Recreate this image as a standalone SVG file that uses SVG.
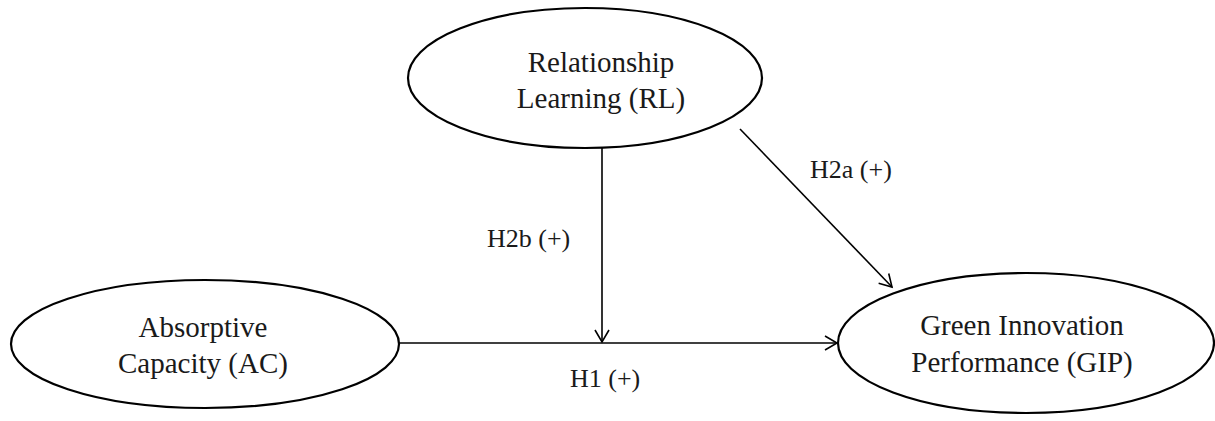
<svg xmlns="http://www.w3.org/2000/svg" width="1215" height="421" viewBox="0 0 1215 421">
<style>
.node{fill:#fff;stroke:#000;stroke-width:2.2}
.nt{font-size:29px;fill:#1a1a1a;text-anchor:middle}
.lt{font-size:26px;fill:#1a1a1a}
.edge{stroke:#000;stroke-width:1.6;fill:none;marker-end:url(#arr)}
</style>
<defs>
<marker id="arr" markerUnits="userSpaceOnUse" markerWidth="16" markerHeight="18" refX="13" refY="8" orient="auto">
<path d="M1,1 L13,8 L1,15" fill="none" stroke="#000" stroke-width="1.6"/>
</marker>
</defs>
<rect width="1215" height="421" fill="#fff"/>
<g id="connectors">
<line class="edge" x1="602" y1="148" x2="602" y2="342"/>
<line class="edge" x1="399" y1="343" x2="837" y2="343"/>
<line class="edge" x1="740" y1="129" x2="892" y2="287"/>
</g>
<g id="labels" font-family="'Liberation Serif', 'DejaVu Serif', serif">
<text class="lt" x="487" y="247">H2b (+)</text>
<text class="lt" x="810" y="178">H2a (+)</text>
<text class="lt" x="570" y="387">H1 (+)</text>
</g>
<g id="node-rl" font-family="'Liberation Serif', 'DejaVu Serif', serif">
<ellipse class="node" cx="585" cy="78" rx="177" ry="70"/>
<text class="nt" x="601" y="72">Relationship</text>
<text class="nt" x="601" y="108">Learning (RL)</text>
</g>
<g id="node-ac" font-family="'Liberation Serif', 'DejaVu Serif', serif">
<ellipse class="node" cx="205" cy="344" rx="194" ry="64"/>
<text class="nt" x="203" y="337">Absorptive</text>
<text class="nt" x="203" y="373">Capacity (AC)</text>
</g>
<g id="node-gip" font-family="'Liberation Serif', 'DejaVu Serif', serif">
<ellipse class="node" cx="1026" cy="343" rx="188" ry="70"/>
<text class="nt" x="1022" y="335">Green Innovation</text>
<text class="nt" x="1022" y="372">Performance (GIP)</text>
</g>
</svg>
